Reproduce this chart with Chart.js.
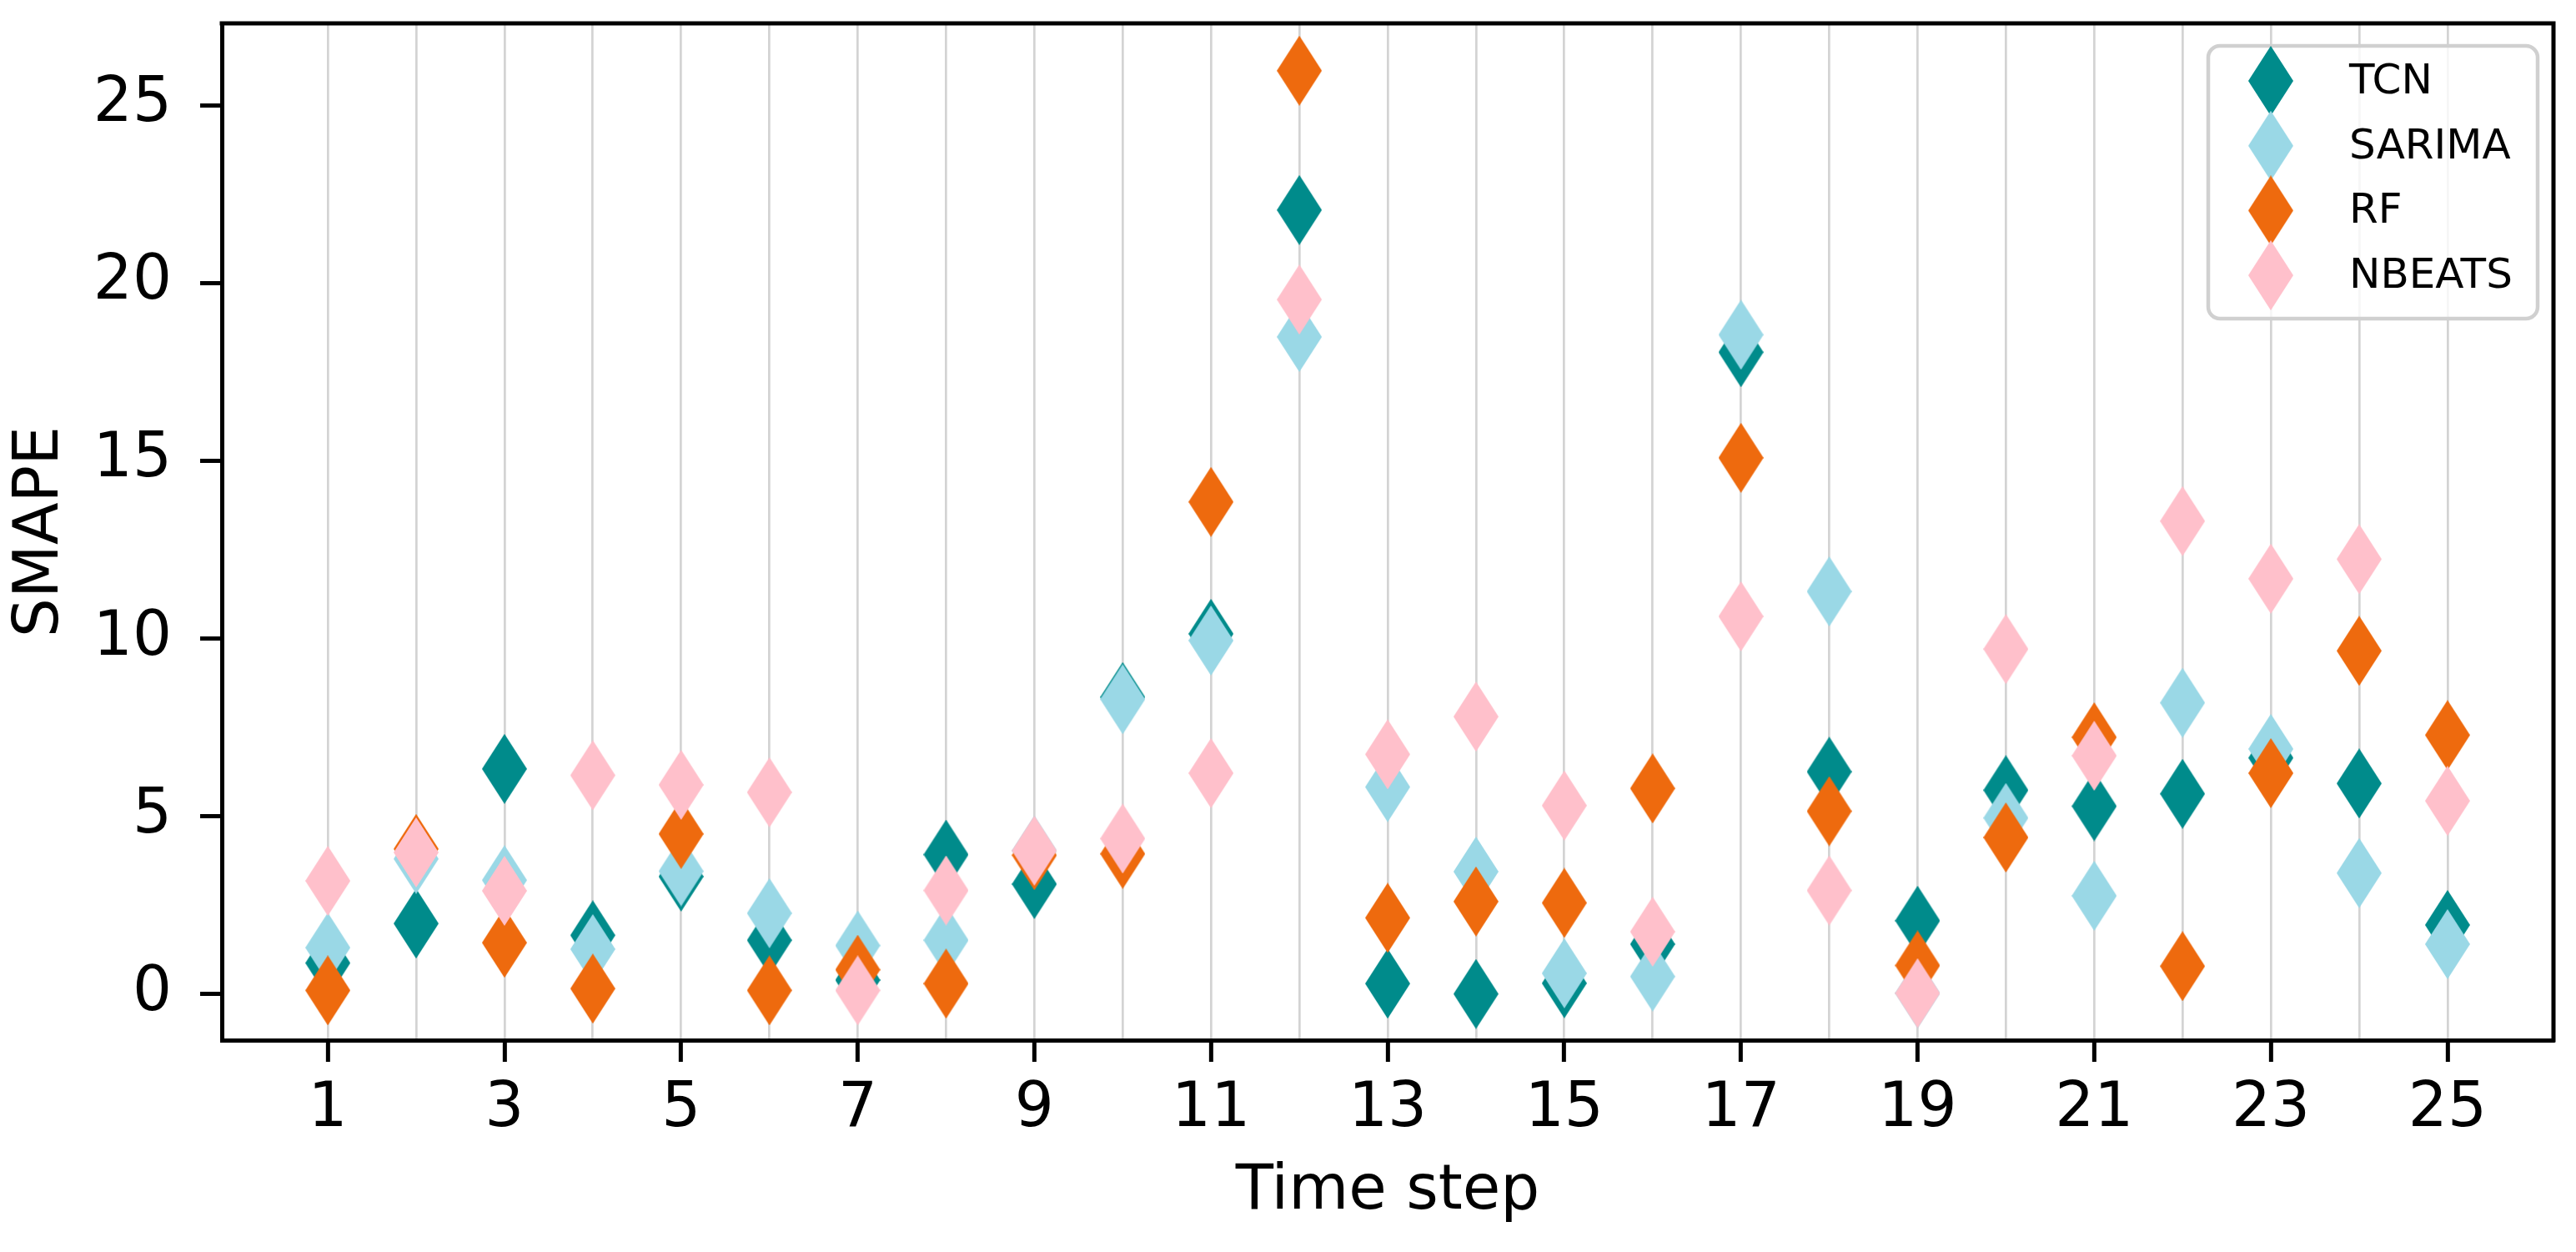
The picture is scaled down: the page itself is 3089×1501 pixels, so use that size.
<!DOCTYPE html>
<html>
<head>
<meta charset="utf-8">
<title>SMAPE per time step</title>
<script src="https://cdn.jsdelivr.net/npm/chart.js@4/dist/chart.umd.min.js"></script>
<style>
    html, body { margin: 0; padding: 0; background: #ffffff; }
    canvas { display: block; }
</style>
</head>
<body>
<canvas id="chart" width="3089" height="1501"></canvas>
<script>
// dados
const timeSteps = [1, 2, 3, 4, 5, 6, 7, 8, 9, 10, 11, 12, 13, 14, 15, 16, 17, 18, 19, 20, 21, 22, 23, 24, 25]
const xTickLabels = [1, 3, 5, 7, 9, 11, 13, 15, 17, 19, 21, 23, 25]
const yTickValues = [0, 5, 10, 15, 20, 25]
const seriesNames = ['TCN', 'SARIMA', 'RF', 'NBEATS']
const seriesColors = ['#008b8b', '#9ad8e6', '#ee6a0e', '#ffc0cb']

const tcnValues = [0.87, 1.98, 6.33, 1.65, 3.3, 1.51, 0.39, 3.92, 3.09, 8.35, 10.13, 22.05, 0.29, 0.0, 0.3, 1.4, 18.05, 6.25, 2.06, 5.73, 5.28, 5.63, 6.64, 5.92, 1.94]
const sarimaValues = [1.3, 3.8, 3.2, 1.26, 3.45, 2.27, 1.36, 1.51, 4.03, 8.29, 9.94, 18.48, 5.82, 3.44, 0.58, 0.49, 18.54, 11.32, 0.02, 4.95, 2.76, 8.19, 6.89, 3.4, 1.4]
const rfValues = [0.1, 4.08, 1.44, 0.15, 4.5, 0.1, 0.68, 0.29, 3.9, 3.94, 13.84, 25.97, 2.14, 2.6, 2.56, 5.78, 15.08, 5.14, 0.8, 4.4, 7.22, 0.78, 6.21, 9.65, 7.28]
const nbeatsValues = [3.18, 3.98, 2.9, 6.15, 5.88, 5.67, 0.1, 2.91, 4.03, 4.37, 6.21, 19.53, 6.74, 7.8, 5.3, 1.75, 10.62, 2.91, 0.02, 9.7, 6.7, 13.3, 11.68, 12.23, 5.43]

const allValues = [tcnValues, sarimaValues, rfValues, nbeatsValues]

const fontFamily = '"DejaVu Sans", "Liberation Sans", sans-serif'
const chartCanvas = document.querySelector('canvas#chart')

//marcador losango fino (igual ao 'd' do matplotlib)
function thinDiamond(color){
    const marker = document.createElement('canvas')
    marker.width = 54
    marker.height = 84
    const ctx = marker.getContext('2d')
    ctx.fillStyle = color
    ctx.beginPath()
    ctx.moveTo(27, 0)
    ctx.lineTo(54, 42)
    ctx.lineTo(27, 84)
    ctx.lineTo(0, 42)
    ctx.closePath()
    ctx.fill()
    return marker
}

const markers = seriesColors.map(thinDiamond)

let datasets = seriesNames.map(function(name, i){
    return {
        label: name,
        data: timeSteps.map((step, j) => ({x: step, y: allValues[i][j]})),
        backgroundColor: seriesColors[i],
        borderColor: seriesColors[i],
        pointStyle: markers[i],
        showLine: false,
        // o último da lista fica por cima, como no matplotlib
        order: seriesNames.length - i
    }
})

//moldura de cima e da direita
const framePlugin = {
    id: 'frame',
    afterDraw(chart){
        const {ctx, chartArea} = chart
        ctx.save()
        ctx.strokeStyle = '#000000'
        ctx.lineWidth = 5
        ctx.beginPath()
        ctx.moveTo(chartArea.left - 2.5, chartArea.top)
        ctx.lineTo(chartArea.right, chartArea.top)
        ctx.lineTo(chartArea.right, chartArea.bottom + 2.5)
        ctx.stroke()
        ctx.restore()
    }
}

//legenda dentro da área do gráfico, canto superior direito
const insideLegend = {
    id: 'insideLegend',
    afterDraw(chart){
        const ctx = chart.ctx
        const boxLeft = 2648
        const boxTop = 55
        const boxWidth = 395
        const boxHeight = 327
        ctx.save()
        ctx.beginPath()
        ctx.roundRect(boxLeft, boxTop, boxWidth, boxHeight, 14)
        ctx.fillStyle = 'rgba(255, 255, 255, 0.8)'
        ctx.fill()
        ctx.strokeStyle = '#d0d0d0'
        ctx.lineWidth = 4.5
        ctx.stroke()

        ctx.font = '50px ' + fontFamily
        ctx.fillStyle = '#000000'
        ctx.textBaseline = 'middle'
        chart.data.datasets.forEach(function(ds, i){
            const rowY = 97 + i * 77.7
            const marker = ds.pointStyle
            ctx.drawImage(marker, 2723 - marker.width / 2, rowY - marker.height / 2)
            ctx.fillText(ds.label, 2817, rowY + 2)
        })
        ctx.restore()
    }
}

let grafico = new Chart(chartCanvas, {
    type: 'scatter',
    data: { datasets: datasets },
    plugins: [framePlugin, insideLegend],
    options: {
        responsive: false,
        devicePixelRatio: 1,
        animation: false,
        events: [],
        layout: {
            padding: { top: 28, right: 25, left: 0, bottom: 0 }
        },
        elements: {
            point: { radius: 27, borderWidth: 0 }
        },
        plugins: {
            legend: { display: false },
            tooltip: { enabled: false }
        },
        scales: {
            x: {
                type: 'linear',
                min: -0.2,
                max: 26.2,
                afterBuildTicks(scale){
                    scale.ticks = timeSteps.map(v => ({value: v}))
                },
                afterFit(scale){
                    scale.height = 254
                    scale.paddingLeft = 0
                    scale.paddingRight = 0
                },
                ticks: {
                    autoSkip: false,
                    maxRotation: 0,
                    padding: 13,
                    color: '#000000',
                    font: { family: fontFamily, size: 74 },
                    callback: value => xTickLabels.includes(value) ? String(value) : ''
                },
                grid: {
                    color: '#d3d3d3',
                    lineWidth: 2.7,
                    tickLength: 26,
                    tickWidth: 5,
                    tickColor: ctx => (ctx.tick && xTickLabels.includes(ctx.tick.value)) ? '#000000' : 'rgba(0,0,0,0)'
                },
                border: { color: '#000000', width: 5 },
                title: {
                    display: true,
                    text: 'Time step',
                    color: '#000000',
                    font: { family: fontFamily, size: 74 },
                    padding: { top: 0, bottom: 27 }
                }
            },
            y: {
                min: -1.3,
                max: 27.3,
                afterBuildTicks(scale){
                    scale.ticks = yTickValues.map(v => ({value: v}))
                },
                afterFit(scale){
                    scale.width = 266
                    scale.paddingTop = 0
                    scale.paddingBottom = 0
                },
                ticks: {
                    padding: 34,
                    color: '#000000',
                    font: { family: fontFamily, size: 74 }
                },
                grid: {
                    drawOnChartArea: false,
                    tickLength: 26,
                    tickWidth: 5,
                    tickColor: '#000000'
                },
                border: { color: '#000000', width: 5 },
                title: {
                    display: true,
                    text: 'SMAPE',
                    color: '#000000',
                    font: { family: fontFamily, size: 74 },
                    padding: { top: 5, bottom: 0 }
                }
            }
        }
    }
})
</script>
</body>
</html>
